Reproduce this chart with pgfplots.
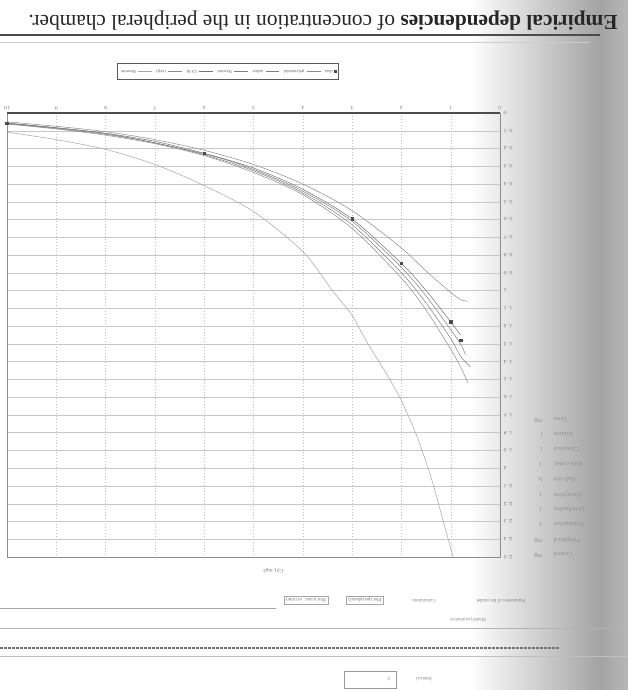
\documentclass[border=0pt]{standalone}
\usepackage{fontspec}
\setmainfont{Liberation Serif}
\setsansfont{Liberation Sans}
\usepackage{pgfplots}
\pgfplotsset{compat=1.18}
\begin{document}
\begin{tikzpicture}[x=1pt,y=1pt]
\useasboundingbox (0,0) rectangle (628,690);
\fill[white] (0,0) rectangle (628,690);
\shade[left color=white, right color=black!36] (470,0) rectangle (600,690);
\shade[left color=black!36, right color=black!28] (600,0) rectangle (628,690);
% lines under caption (outer coords: x_img, 690-y_img)
\draw[black!70, line width=1.3pt] (0,655) -- (600,655);
\draw[black!20, line width=0.6pt] (0,648) -- (590,648);
% UI lines near bottom of the image
\draw[black!35, line width=0.5pt] (0,82) -- (276,82);
\draw[black!30, line width=0.5pt] (0,62) -- (628,62);
\draw[black!55, line width=2pt, dash pattern=on 3pt off 1pt] (0,42) -- (560,42);
\draw[black!25, line width=0.5pt] (0,34) -- (628,34);
\draw[black!40, line width=0.5pt] (344,2) rectangle (396,19);
% texts of the rotated page
\begin{scope}[rotate around={180:(314,345)}, transform shape]
\node[anchor=east, font=\fontsize{21.3}{25}\selectfont, text=black!85] at (603,21)
 {\textbf{Empirical dependencies} of concentration in the peripheral chamber.};
\node[draw=black!35, font=\fontsize{5}{6}\selectfont, text=black!55, inner sep=2pt] at (322,600) {Plot (conc. vs time)};
\node[draw=black!35, font=\fontsize{5}{6}\selectfont, text=black!55, inner sep=2pt] at (263,600) {Plot (peripheral)};
\node[font=\fontsize{5}{6}\selectfont, text=black!50] at (204,601) {Calculation};
\node[font=\fontsize{5}{6}\selectfont, text=black!50] at (127,601) {Parameters of the model};
\node[font=\fontsize{5}{6}\selectfont, text=black!45] at (160,620) {Model parameters};
\node[font=\fontsize{5}{6}\selectfont, text=black!50] at (204,679) {Interval};
\node[font=\fontsize{5}{6}\selectfont, text=black!60, anchor=west] at (234,679) {1};
\foreach \yy/\tt/\uu in {420/Dose/mg, 435/Volume/l, 450/Clearance/l/h, 465/Rate const./1/h, 480/Half-life/h, 495/Absorption/1/h, 510/Distribution/1/h, 525/Elimination/1/h, 540/Peripheral/mg/l, 555/Central/mg/l}{
  \node[font=\fontsize{6.5}{7}\selectfont, text=black!42, anchor=east] at (78,\yy) {\tt};
  \node[font=\fontsize{6.5}{7}\selectfont, text=black!42, anchor=west] at (82,\yy) {\uu};
}
\end{scope}
\begin{scope}[rotate around={180:(314,345)}, transform shape]
\begin{axis}[
  at={(128pt,113pt)}, anchor=south west,
  scale only axis, width=493pt, height=444pt,
  xmin=0, xmax=10, ymin=0, ymax=2.5,
  xtick={0,1,...,10}, ytick distance=0.1,
  major tick length=0pt,
  axis line style={black!45, line width=0.5pt},
  grid=major,
  major x grid style={black!25, dash pattern=on 1.5pt off 1.5pt, line width=0.4pt},
  major y grid style={black!22, line width=0.4pt},
  tick label style={font=\fontsize{5}{6}\selectfont, text=black!55},
  yticklabel style={/pgf/number format/fixed, /pgf/number format/precision=1},
  title={C(t), mg/l},
  title style={font=\fontsize{5}{6}\selectfont, text=black!55, at={(rel axis cs:0.46,1)}, anchor=south, yshift=2pt},
  legend style={at={(rel axis cs:0.552,-0.0946)}, anchor=center, legend columns=-1,
    font=\fontsize{4.5}{5}\selectfont, text=black!60, draw=black!65, line width=0.6pt,
    inner xsep=2pt, inner ysep=3.5pt, /tikz/every even column/.append style={column sep=2.5pt}},
  legend image post style={scale=0.8},
  every axis plot/.append style={line width=0.5pt},
  after end axis/.code={\draw[black!70, line width=1.4pt] (rel axis cs:0,0) -- (rel axis cs:1,0);},
]
\addplot[only marks, mark=square*, mark size=1.3pt, black!70] coordinates {
 (10,0.057) (6,0.227) (3,0.597) (2,0.847) (1,1.176) (0.8,1.28)};
\addlegendentry{data}
\addplot[smooth, black!45] coordinates {
 (10,0.062) (9,0.09) (8,0.125) (7,0.173) (6,0.24) (5,0.335) (4,0.46) (3,0.65) (2,0.93) (1.5,1.11) (1,1.33) (0.8,1.43) (0.65,1.52)};
\addlegendentry{polynomial}
\addplot[smooth, black!50] coordinates {
 (10,0.06) (9,0.087) (8,0.12) (7,0.168) (6,0.235) (5,0.325) (4,0.45) (3,0.63) (2,0.90) (1.5,1.07) (1,1.27) (0.8,1.37) (0.6,1.43)};
\addlegendentry{spline}
\addplot[smooth, black!50] coordinates {
 (10,0.058) (8,0.116) (6,0.23) (5,0.318) (4,0.44) (3,0.61) (2,0.87) (1.5,1.03) (1,1.22) (0.8,1.3) (0.7,1.36)};
\addlegendentry{Newton}
\addplot[smooth, black!55] coordinates {
 (10,0.057) (9,0.083) (8,0.114) (7,0.16) (6,0.227) (5,0.31) (4,0.43) (3,0.597) (2,0.847) (1.5,1.0) (1,1.176) (0.8,1.25)};
\addlegendentry{LS fit}
\addplot[smooth, black!45] coordinates {
 (10,0.05) (9,0.075) (8,0.105) (7,0.15) (6,0.21) (5,0.29) (4,0.40) (3,0.55) (2,0.76) (1.5,0.89) (1,1.01) (0.8,1.05) (0.65,1.06)};
\addlegendentry{(exp)}
\addplot[smooth, black!35] coordinates {
 (10,0.108) (9,0.15) (8,0.205) (7,0.29) (6,0.409) (5,0.555) (4,0.78) (3.4,1.0) (3,1.14) (2.7,1.29) (2.3,1.47) (2,1.62) (1.7,1.81) (1.4,2.05) (1.15,2.3) (0.95,2.5)};
\addlegendentry{Hermite}
\end{axis}
\end{scope}
\end{tikzpicture}
\end{document}
